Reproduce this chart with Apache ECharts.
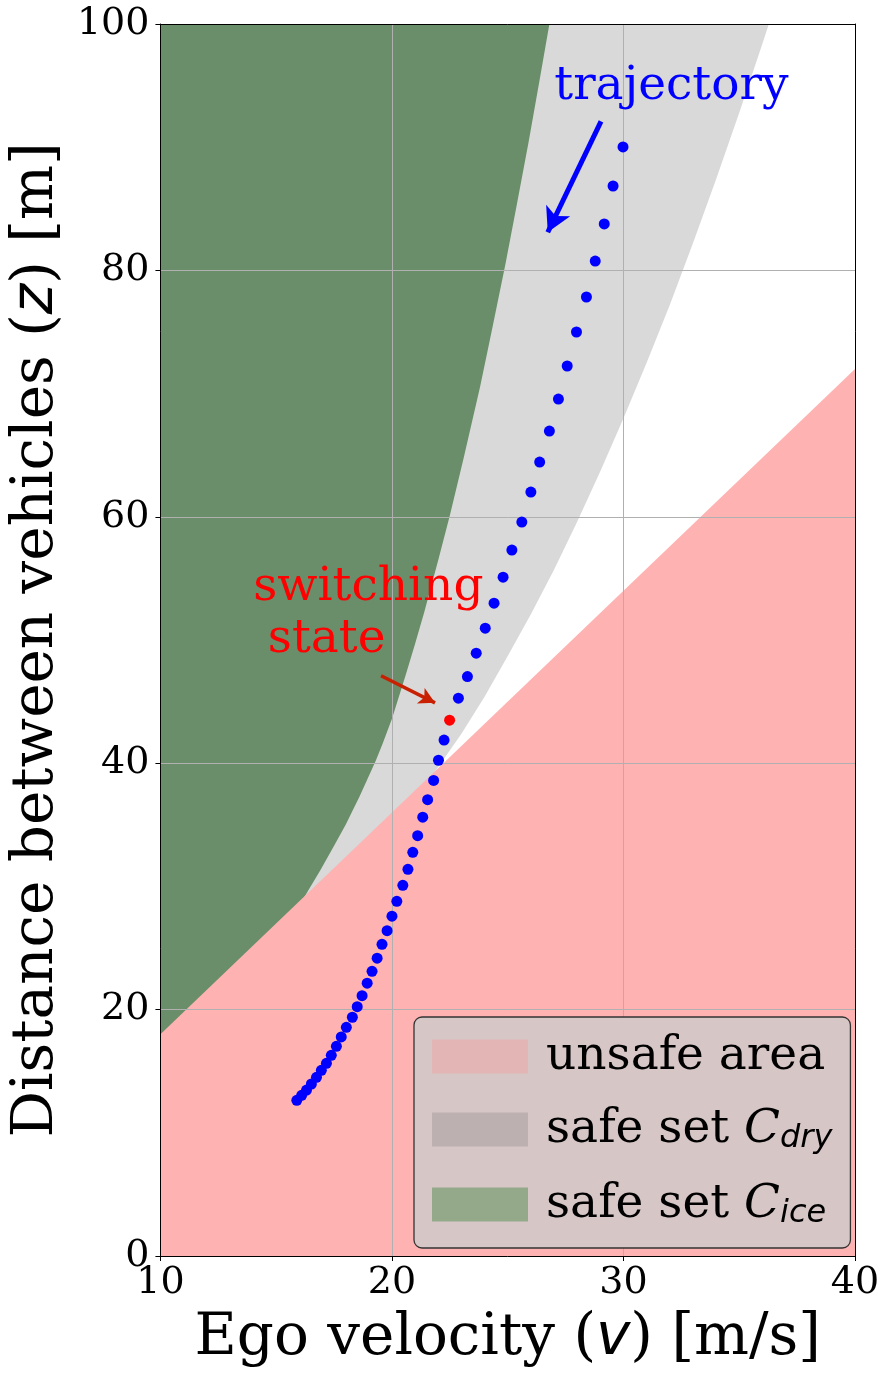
<!DOCTYPE html>
<html>
<head>
<meta charset="utf-8">
<script src="https://cdn.jsdelivr.net/npm/echarts@6/dist/echarts.min.js"></script>
<style>
  html, body { margin: 0; padding: 0; background: #fff; }
  #chart { width: 888px; height: 1380px; }
</style>
</head>
<body>
<div id="chart"></div>
<script>
// axis ticks
const xTicks = [10, 20, 30, 40];
const yTicks = [0, 20, 40, 60, 80, 100];

// unsafe area boundary (z = headway line)
const unsafeV = [10, 40];
const unsafeZ = [18, 72];

// lower boundary of the dry-road safe set
const dryV = [10, 16, 20, 21, 22, 23, 24, 25, 26, 27, 28, 29, 30, 31, 32, 33, 34, 35, 36, 36.28];
const dryZ = [8, 22, 34.7, 37.1, 39.7, 42.4, 45.4, 48.7, 52.1, 55.7, 59.6, 63.7, 68.0, 72.5, 77.2, 82.2, 87.4, 92.8, 98.4, 100];

// lower boundary of the icy-road safe set
const iceV = [10, 14, 16.3, 16.9, 17.5, 18.0, 18.6, 19.3, 19.6, 20.0, 20.6, 21.0, 21.4, 22.0, 22.5, 23.1, 23.8, 24.3, 24.9, 25.4, 25.9, 26.4, 26.8];
const iceZ = [12, 22, 29.4, 31.3, 33.3, 35.0, 37.3, 40.2, 41.6, 43.6, 47.2, 49.7, 52.3, 56.5, 60.1, 64.8, 70.5, 75.0, 80.5, 85.4, 90.4, 95.7, 100];

// closed-loop trajectory (velocity, distance)
const trajV = [29.98, 29.55, 29.17, 28.78, 28.40, 27.97, 27.57, 27.19, 26.80, 26.38, 26.00, 25.61, 25.18, 24.80,
  24.41, 24.03, 23.64, 23.26, 22.87, 22.25, 22.01, 21.80, 21.54, 21.33, 21.11, 20.90, 20.69, 20.47, 20.21,
  20.00, 19.79, 19.57, 19.36, 19.14, 18.93, 18.71, 18.50, 18.29, 18.03, 17.81, 17.60, 17.38, 17.17, 16.95,
  16.74, 16.52, 16.31, 16.10, 15.89];
const trajZ = [90.02, 86.85, 83.77, 80.76, 77.84, 75.00, 72.24, 69.56, 66.96, 64.44, 62.01, 59.57, 57.30, 55.10,
  52.99, 50.96, 48.93, 47.03, 45.28, 41.88, 40.24, 38.60, 37.04, 35.62, 34.12, 32.77, 31.39, 30.09, 28.79,
  27.58, 26.41, 25.30, 24.17, 23.11, 22.14, 21.13, 20.24, 19.38, 18.56, 17.78, 17.02, 16.29, 15.64, 15.07,
  14.50, 13.96, 13.47, 13.04, 12.64];

// switching state
const switchV = [22.49];
const switchZ = [43.49];

// annotations (data units)
const trajArrow = [[29.03, 92.1], [26.73, 83.1]];
const switchArrow = [[19.53, 47.1], [21.86, 44.9]];
const trajLabelPos = [32.07, 94.9];
const switchLabelPos = [[18.98, 54.2], [17.18, 50.0]];

const SERIF = '"DejaVu Serif", serif';
const SANS = '"DejaVu Sans", sans-serif';

function pairs(xs, ys) {
  return xs.map(function (x, i) { return [x, ys[i]]; });
}

const chartDom = document.getElementById('chart');
const myChart = echarts.init(chartDom);

function areaSeries(name, v, z, color, origin) {
  return {
    name: name,
    type: 'line',
    data: pairs(v, z),
    showSymbol: false,
    symbol: 'none',
    smooth: false,
    lineStyle: { width: 0, opacity: 0 },
    itemStyle: { color: color },
    areaStyle: { color: color, opacity: 1, origin: origin },
    silent: true,
    z: 2
  };
}

const legendRich = {
  a: { fontFamily: SERIF, fontSize: 47, color: '#000', lineHeight: 52 },
  c: { fontFamily: SERIF, fontSize: 47, fontStyle: 'italic', color: '#000', lineHeight: 52 },
  s: { fontFamily: SANS, fontSize: 32, fontStyle: 'italic', color: '#000', lineHeight: 33, padding: [19, 0, 0, 0] }
};

const option = {
  animation: false,
  backgroundColor: '#fff',
  grid: { left: 156, top: 24, width: 699, height: 1232, containLabel: false },
  xAxis: [
    {
      type: 'value',
      min: xTicks[0],
      max: xTicks[xTicks.length - 1],
      interval: xTicks[1] - xTicks[0],
      z: 3,
      name: '{t|Ego velocity (}{m|v}{t|) [m/s]}',
      nameLocation: 'middle',
      nameGap: 54,
      nameTextStyle: {
        rich: {
          t: { fontFamily: SERIF, fontSize: 58, color: '#000' },
          m: { fontFamily: SANS, fontStyle: 'italic', fontSize: 58, color: '#000' }
        }
      },
      axisLine: { show: true, onZero: false, lineStyle: { color: '#000', width: 1 } },
      axisTick: { show: true, inside: false, length: 5, lineStyle: { color: '#000' } },
      axisLabel: { fontFamily: SERIF, fontSize: 38, color: '#000', margin: 8 },
      splitLine: { show: true, lineStyle: { color: '#b0b0b0', width: 1 } }
    },
    {
      type: 'value',
      position: 'top',
      min: xTicks[0],
      max: xTicks[xTicks.length - 1],
      z: 3,
      axisLine: { show: true, onZero: false, lineStyle: { color: '#000', width: 1 } },
      axisTick: { show: false },
      axisLabel: { show: false },
      splitLine: { show: false }
    }
  ],
  yAxis: [
    {
      type: 'value',
      min: yTicks[0],
      max: yTicks[yTicks.length - 1],
      interval: yTicks[1] - yTicks[0],
      z: 3,
      name: '{t|Distance between vehicles (}{m|z}{t|) [m]}',
      nameLocation: 'middle',
      nameRotate: 90,
      nameGap: 94,
      nameTextStyle: {
        rich: {
          t: { fontFamily: SERIF, fontSize: 58, color: '#000' },
          m: { fontFamily: SANS, fontStyle: 'italic', fontSize: 58, color: '#000' }
        }
      },
      axisLine: { show: true, onZero: false, lineStyle: { color: '#000', width: 1 } },
      axisTick: { show: true, inside: false, length: 5, lineStyle: { color: '#000' } },
      axisLabel: { fontFamily: SERIF, fontSize: 38, color: '#000', margin: 11 },
      splitLine: { show: true, lineStyle: { color: '#b0b0b0', width: 1 } }
    },
    {
      type: 'value',
      position: 'right',
      min: yTicks[0],
      max: yTicks[yTicks.length - 1],
      z: 3,
      axisLine: { show: true, onZero: false, lineStyle: { color: '#000', width: 1 } },
      axisTick: { show: false },
      axisLabel: { show: false },
      splitLine: { show: false }
    }
  ],
  legend: {
    data: [
      { name: 'unsafe area', itemStyle: { color: '#e3b5b5', borderWidth: 0 } },
      { name: 'safe set C_dry', itemStyle: { color: '#bcb0b0', borderWidth: 0 } },
      { name: 'safe set C_ice', itemStyle: { color: '#94a88a', borderWidth: 0 } }
    ],
    orient: 'vertical',
    left: 414,
    top: 1017,
    padding: [16, 18, 18, 18],
    itemGap: 24,
    itemWidth: 96,
    itemHeight: 34,
    icon: 'rect',
    selectedMode: false,
    backgroundColor: '#d7c6c6',
    borderColor: '#333',
    borderWidth: 1.3,
    borderRadius: 8,
    z: 6,
    formatter: function (name) {
      if (name === 'safe set C_dry') return '{a|safe set }{c|C}{s|dry}';
      if (name === 'safe set C_ice') return '{a|safe set }{c|C}{s|ice}';
      return '{a|' + name + '}';
    },
    textStyle: { padding: [0, 0, 0, 13], rich: legendRich }
  },
  series: [
    areaSeries('safe set C_dry', dryV, dryZ, '#d9d9d9', 'end'),
    areaSeries('safe set C_ice', iceV, iceZ, '#698e69', 'end'),
    areaSeries('unsafe area', unsafeV, unsafeZ, '#ffb2b2', 'start'),
    {
      name: 'trajectory',
      type: 'scatter',
      data: pairs(trajV, trajZ),
      symbol: 'circle',
      symbolSize: 11,
      itemStyle: { color: '#0000ff', opacity: 1 },
      z: 5,
      silent: true,
      markLine: {
        silent: true,
        animation: false,
        symbol: ['none', 'arrow'],
        label: { show: false },
        emphasis: { disabled: true },
        data: [
          [
            { coord: trajArrow[0], symbol: 'none', lineStyle: { color: '#0000ff', width: 5, type: 'solid', opacity: 1 } },
            { coord: trajArrow[1], symbol: 'arrow', symbolSize: [20, 24] }
          ],
          [
            { coord: switchArrow[0], symbol: 'none', lineStyle: { color: '#c82000', width: 3.5, type: 'solid', opacity: 1 } },
            { coord: switchArrow[1], symbol: 'arrow', symbolSize: [13, 16] }
          ]
        ]
      }
    },
    {
      name: 'switching state',
      type: 'scatter',
      data: pairs(switchV, switchZ),
      symbol: 'circle',
      symbolSize: 11,
      itemStyle: { color: '#ff0000', opacity: 1 },
      z: 6,
      silent: true
    }
  ]
};

myChart.setOption(option);

// text annotations placed from data coordinates
const pTraj = myChart.convertToPixel({ gridIndex: 0 }, trajLabelPos);
const pSw1 = myChart.convertToPixel({ gridIndex: 0 }, switchLabelPos[0]);
const pSw2 = myChart.convertToPixel({ gridIndex: 0 }, switchLabelPos[1]);

myChart.setOption({
  graphic: [
    {
      type: 'text', x: pTraj[0], y: pTraj[1], z: 10,
      style: { text: 'trajectory', fontFamily: SERIF, fontSize: 47, fill: '#0000ff', align: 'center', verticalAlign: 'middle' }
    },
    {
      type: 'text', x: pSw1[0], y: pSw1[1], z: 10,
      style: { text: 'switching', fontFamily: SERIF, fontSize: 47, fill: '#ff0000', align: 'center', verticalAlign: 'middle' }
    },
    {
      type: 'text', x: pSw2[0], y: pSw2[1], z: 10,
      style: { text: 'state', fontFamily: SERIF, fontSize: 47, fill: '#ff0000', align: 'center', verticalAlign: 'middle' }
    }
  ]
});

window.addEventListener('resize', function () {
  myChart.resize();
});
</script>
</body>
</html>
